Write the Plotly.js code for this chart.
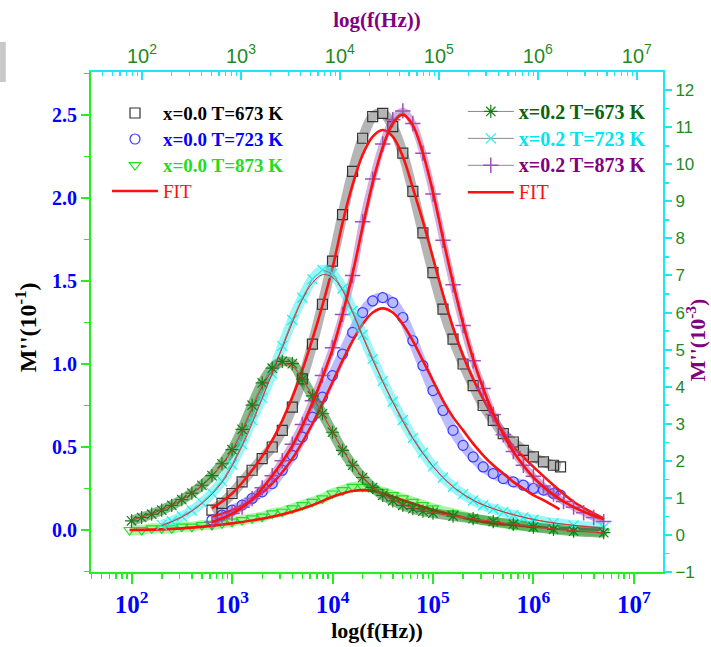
<!DOCTYPE html>
<html>
<head>
<meta charset="utf-8">
<script src="https://cdn.plot.ly/plotly-3.0.1.min.js"></script>
<style>html,body{margin:0;padding:0;background:#fff;}#chart{width:711px;height:647px;}</style>
</head>
<body>
<div id="chart"></div>
<script>
// ---------- x = 0.0 (left axis, M'' in 1e-1) ----------
// log10(f/Hz) positions and M'' values
const logF_A = [2.8,2.9,3.0,3.1,3.2,3.3,3.4,3.5,3.6,3.7,3.8,3.9,4.0,4.1,4.2,4.3,4.4,4.5,4.6,4.7,4.8,4.9,5.0,5.1,5.2,5.3,5.4,5.5,5.6,5.7,5.8,5.9,6.0,6.1,6.2,6.27];
const m_A673 = [0.12,0.16,0.22,0.29,0.36,0.43,0.50,0.60,0.74,0.91,1.12,1.36,1.62,1.90,2.16,2.36,2.49,2.51,2.43,2.27,2.04,1.79,1.55,1.33,1.15,1.00,0.87,0.75,0.66,0.58,0.53,0.48,0.44,0.41,0.39,0.38];
const logF_fitA = [2.8,3.0,3.2,3.4,3.6,3.8,4.0,4.1,4.2,4.3,4.4,4.5,4.6,4.7,4.8,4.9,5.0,5.1,5.2,5.3,5.4,5.5,5.6,5.7,5.8,5.9,6.0,6.2,6.4,6.6,6.7];
const fit_A673 = [0.13,0.22,0.36,0.54,0.80,1.15,1.58,1.85,2.08,2.26,2.37,2.41,2.37,2.25,2.06,1.86,1.64,1.42,1.22,1.05,0.91,0.79,0.68,0.59,0.50,0.44,0.38,0.27,0.17,0.10,0.07];

const logF_B = [2.8,2.9,3.0,3.1,3.2,3.3,3.4,3.5,3.6,3.7,3.8,3.9,4.0,4.1,4.2,4.3,4.4,4.5,4.6,4.7,4.8,4.9,5.0,5.1,5.2,5.3,5.4,5.5,5.6,5.7,5.8,5.9,6.0,6.1,6.2,6.27];
const m_B723 = [0.06,0.09,0.12,0.15,0.19,0.23,0.28,0.36,0.45,0.56,0.68,0.80,0.93,1.06,1.19,1.31,1.38,1.40,1.37,1.28,1.14,0.99,0.84,0.72,0.60,0.51,0.44,0.38,0.34,0.31,0.29,0.27,0.25,0.24,0.22,0.21];
const logF_fitB = [2.8,3.0,3.2,3.4,3.6,3.8,4.0,4.1,4.2,4.3,4.4,4.5,4.6,4.7,4.8,4.9,5.0,5.1,5.2,5.3,5.4,5.5,5.6,5.7,5.8,5.9,6.0,6.1,6.26];
const fit_B723 = [0.08,0.12,0.18,0.28,0.43,0.64,0.89,1.02,1.14,1.24,1.31,1.335,1.31,1.24,1.14,1.02,0.90,0.78,0.68,0.60,0.52,0.45,0.39,0.34,0.29,0.25,0.21,0.18,0.125];

const logF_C = [1.98,2.1,2.2,2.3,2.4,2.5,2.6,2.7,2.8,2.9,3.0,3.1,3.2,3.3,3.4,3.5,3.6,3.7,3.8,3.9,4.0,4.1,4.2,4.3,4.4,4.5,4.6,4.7,4.8,4.9,5.0,5.2,5.4,5.6,5.8,6.0,6.2,6.4,6.7];
const m_C873 = [0.00,0.00,0.01,0.01,0.01,0.02,0.02,0.03,0.03,0.04,0.05,0.06,0.07,0.08,0.10,0.11,0.13,0.15,0.17,0.19,0.22,0.24,0.26,0.26,0.25,0.23,0.21,0.19,0.17,0.15,0.13,0.10,0.07,0.05,0.03,0.02,0.01,0.00,-0.01];
const logF_fitC = [1.98,2.5,3.0,3.4,3.6,3.8,4.0,4.1,4.2,4.3,4.4,4.5,4.6,4.8,5.0,5.2,5.4,5.6,5.8,6.0,6.3,6.7];
const fit_C873 = [0.00,0.01,0.04,0.08,0.11,0.15,0.20,0.22,0.235,0.24,0.235,0.22,0.20,0.16,0.12,0.09,0.06,0.04,0.03,0.02,0.01,0.00];

// ---------- x = 0.2 (right axis, M'' in 1e-3) ----------
const logF_D = [2.0,2.1,2.2,2.3,2.4,2.5,2.6,2.7,2.8,2.9,3.0,3.1,3.2,3.3,3.4,3.5,3.6,3.7,3.8,3.9,4.0,4.1,4.2,4.3,4.4,4.5,4.6,4.7,4.8,4.9,5.0,5.2,5.4,5.6,5.8,6.0,6.2,6.4,6.7];
const m_D673 = [0.38,0.47,0.56,0.67,0.80,0.95,1.13,1.34,1.60,1.92,2.30,2.85,3.50,4.10,4.50,4.68,4.62,4.20,3.75,3.27,2.77,2.28,1.88,1.55,1.28,1.07,0.92,0.80,0.71,0.64,0.59,0.51,0.44,0.36,0.29,0.21,0.15,0.10,0.06];
const logF_fitD = [2.0,2.2,2.4,2.6,2.8,3.0,3.1,3.2,3.3,3.4,3.5,3.6,3.7,3.8,3.9,4.0,4.1,4.2,4.3,4.4,4.6,4.8,5.0,5.3,5.6,6.0,6.4,6.7];
const fit_D673 = [0.40,0.57,0.80,1.12,1.58,2.28,2.80,3.42,4.00,4.42,4.62,4.55,4.22,3.75,3.27,2.78,2.30,1.90,1.57,1.30,0.94,0.73,0.60,0.48,0.36,0.22,0.11,0.06];

const logF_E = [2.3,2.4,2.5,2.6,2.7,2.8,2.9,3.0,3.1,3.2,3.3,3.4,3.5,3.6,3.7,3.8,3.9,4.0,4.1,4.2,4.3,4.4,4.5,4.6,4.7,4.8,4.9,5.0,5.1,5.2,5.3,5.4,5.5,5.6,5.7,5.8,5.9,6.0,6.2,6.4,6.7];
const m_E723 = [0.27,0.37,0.50,0.66,0.87,1.13,1.45,1.90,2.45,3.10,3.70,4.35,5.10,5.80,6.40,6.90,7.15,7.05,6.65,6.05,5.40,4.75,4.15,3.60,3.10,2.62,2.22,1.85,1.55,1.30,1.10,0.93,0.80,0.70,0.62,0.54,0.47,0.41,0.32,0.26,0.20];
const logF_fitE = [2.3,2.5,2.7,2.9,3.1,3.3,3.5,3.7,3.8,3.9,4.0,4.1,4.2,4.4,4.6,4.8,5.0,5.2,5.4,5.6,5.8,6.0,6.3,6.7];
const fit_E723 = [0.25,0.48,0.85,1.42,2.40,3.68,5.05,6.35,6.80,7.02,6.95,6.60,6.00,4.72,3.58,2.60,1.85,1.30,0.94,0.71,0.55,0.42,0.29,0.18];

const logF_F = [2.8,2.9,3.0,3.1,3.2,3.3,3.4,3.5,3.6,3.7,3.8,3.9,4.0,4.1,4.2,4.3,4.4,4.5,4.6,4.7,4.8,4.9,5.0,5.1,5.2,5.3,5.4,5.5,5.6,5.7,5.8,5.9,6.0,6.1,6.2,6.3,6.4,6.5,6.6,6.7];
const m_F873 = [0.35,0.45,0.58,0.75,0.98,1.27,1.60,2.00,2.45,2.98,3.62,4.30,5.05,5.95,7.00,8.45,9.60,10.55,11.20,11.44,11.10,10.30,9.20,7.95,6.75,5.65,4.70,3.95,3.25,2.70,2.25,1.88,1.58,1.32,1.10,0.90,0.75,0.60,0.47,0.36];
const logF_fitF = [2.8,3.0,3.2,3.4,3.6,3.8,3.9,4.0,4.1,4.2,4.3,4.4,4.5,4.6,4.7,4.8,4.9,5.0,5.1,5.2,5.3,5.4,5.5,5.6,5.7,5.8,6.0,6.2,6.4,6.6,6.7];
const fit_F873 = [0.35,0.57,0.96,1.60,2.40,3.55,4.25,5.00,5.95,7.05,8.30,9.50,10.45,11.10,11.34,11.05,10.30,9.25,8.00,6.80,5.70,4.75,3.95,3.28,2.72,2.25,1.55,1.08,0.75,0.52,0.42];

// legend labels and titles
const labA = 'x=0.0 T=673 K', labB = 'x=0.0 T=723 K', labC = 'x=0.0 T=873 K';
const labD = 'x=0.2 T=673 K', labE = 'x=0.2 T=723 K', labF = 'x=0.2 T=873 K';
const labFit = 'FIT';
const titleX = 'log(f(Hz))';
const titleYL = "M''(10<sup>-1</sup>)";
const titleYR = "M''(10<sup>-3</sup>)";

const hz = a => a.map(v => Math.pow(10, v));
const serif = 'Liberation Serif, Times New Roman, serif';
const sans = 'Liberation Sans Narrow, Arial Narrow, Liberation Sans, Arial, sans-serif';
const RED = '#ff1010';
const GREEN_AX = '#22ee22';
const CYAN_AX = '#1ee6f2';

const nm = (t, c, px, bold) => (bold ? '<b>' : '') + '<span style="color:' + c + ';font-size:' + px + 'px">' + t + '</span>' + (bold ? '</b>' : '');
// soft band drawn under the markers, mimicking the dense data points
const band = (x, y, ax, color, w) => ({x: hz(x), y: y, yaxis: ax, mode: 'lines', showlegend: false, hoverinfo: 'skip',
  line: {color: color, width: w, shape: 'spline'}});

const traces = [
  band(logF_F, m_F873, 'y2', 'rgba(160,80,184,0.45)', 7),
  band(logF_E, m_E723, 'y2', 'rgba(34,238,238,0.45)', 10),
  band(logF_D, m_D673, 'y2', 'rgba(20,120,20,0.5)', 10),
  band(logF_C, m_C873, 'y', 'rgba(60,238,60,0.45)', 10),
  band(logF_B, m_B723, 'y', 'rgba(60,60,255,0.35)', 10),
  band(logF_A, m_A673, 'y', 'rgba(90,90,90,0.45)', 10),
  // x=0.2 data (right axis)
  {x: hz(logF_F), y: m_F873, yaxis: 'y2', mode: 'lines+markers', name: nm(labF, '#800080', 20, true), legend: 'legend2', legendrank: 3,
   line: {color: '#8a8a8a', width: 1}, marker: {symbol: 'cross-thin-open', size: 11, color: '#a050b8', line: {width: 1.5, color: '#a050b8'}}},
  {x: hz(logF_E), y: m_E723, yaxis: 'y2', mode: 'lines+markers', name: nm(labE, '#00e5ee', 20, true), legend: 'legend2', legendrank: 2,
   line: {color: '#8a8a8a', width: 1}, marker: {symbol: 'x-thin-open', size: 10, color: '#22eeee', line: {width: 1.2, color: '#22eeee'}}},
  {x: hz(logF_D), y: m_D673, yaxis: 'y2', mode: 'lines+markers', name: nm(labD, '#0a640a', 20, true), legend: 'legend2', legendrank: 1,
   line: {color: '#8a8a8a', width: 1}, marker: {symbol: 'asterisk-open', size: 11, color: '#1a7a1a', line: {width: 1.2, color: '#1a7a1a'}}},
  // x=0.0 data (left axis)
  {x: hz(logF_C), y: m_C873, mode: 'markers', name: nm(labC, '#22dd22', 19, true), legend: 'legend', legendrank: 3,
   marker: {symbol: 'triangle-down-open', size: 10, color: '#22dd22', line: {width: 1.2, color: '#22dd22'}}},
  {x: hz(logF_B), y: m_B723, mode: 'markers', name: nm(labB, '#0000ff', 19, true), legend: 'legend', legendrank: 2,
   marker: {symbol: 'circle-open', size: 10, color: '#3a3aff', line: {width: 1.2, color: '#3a3aff'}}},
  {x: hz(logF_A), y: m_A673, mode: 'markers', name: nm(labA, '#000000', 19, true), legend: 'legend', legendrank: 1,
   marker: {symbol: 'square-open', size: 10, color: '#333333', line: {width: 1.2, color: '#333333'}}},
  // fits
  {x: hz(logF_fitD), y: fit_D673, yaxis: 'y2', mode: 'lines', showlegend: false, line: {color: '#d83030', width: 1, shape: 'spline'}},
  {x: hz(logF_fitE), y: fit_E723, yaxis: 'y2', mode: 'lines', showlegend: false, line: {color: '#d83030', width: 1, shape: 'spline'}},
  {x: hz(logF_fitF), y: fit_F873, yaxis: 'y2', mode: 'lines', name: nm(labFit, RED, 20, false), legend: 'legend2', legendrank: 4,
   line: {color: RED, width: 2.6, shape: 'spline'}},
  {x: hz(logF_fitC), y: fit_C873, mode: 'lines', showlegend: false, line: {color: RED, width: 2.6, shape: 'spline'}},
  {x: hz(logF_fitB), y: fit_B723, mode: 'lines', showlegend: false, line: {color: RED, width: 2.6, shape: 'spline'}},
  {x: hz(logF_fitA), y: fit_A673, mode: 'lines', name: nm(labFit, RED, 19, false), legend: 'legend', legendrank: 4,
   line: {color: RED, width: 2.6, shape: 'spline'}},
  // carrier for the top axis
  {x: [100], y: [null], xaxis: 'x2', mode: 'markers', showlegend: false, hoverinfo: 'skip'}
];

const layout = {
  width: 711, height: 647,
  margin: {l: 91, r: 48, t: 72, b: 75, pad: 0},
  paper_bgcolor: '#ffffff', plot_bgcolor: '#ffffff',
  showlegend: true,
  xaxis: {
    type: 'log', range: [1.596, 7.29], dtick: 1, exponentformat: 'power',
    showline: true, linecolor: GREEN_AX, linewidth: 2, showgrid: false, zeroline: false,
    ticks: 'outside', ticklen: 10, tickwidth: 2, tickcolor: GREEN_AX,
    minor: {ticks: 'outside', ticklen: 5, tickwidth: 1.5, tickcolor: GREEN_AX, dtick: 'D1', showgrid: false},
    tickfont: {family: serif, size: 20, color: '#0000ff', weight: 'bold'},
    title: {text: titleX, font: {family: serif, size: 22, color: '#000000', weight: 'bold'}, standoff: 5}
  },
  xaxis2: {
    type: 'log', range: [1.485, 7.265], dtick: 1, exponentformat: 'power',
    overlaying: 'x', side: 'top', anchor: 'y',
    showline: true, linecolor: CYAN_AX, linewidth: 2, showgrid: false, zeroline: false,
    ticks: 'inside', ticklen: 8, tickwidth: 1.5, tickcolor: CYAN_AX,
    minor: {ticks: 'inside', ticklen: 4, tickwidth: 1.2, tickcolor: CYAN_AX, dtick: 'D1', showgrid: false},
    tickfont: {family: sans, size: 16, color: '#1f8a1f'},
    title: {text: titleX, font: {family: serif, size: 21, color: '#800080', weight: 'bold'}, standoff: 8}
  },
  yaxis: {
    range: [-0.253, 2.759], dtick: 0.5, tickformat: '.1f',
    showline: true, linecolor: GREEN_AX, linewidth: 2, showgrid: false, zeroline: false,
    ticks: 'outside', ticklen: 8, tickwidth: 2, tickcolor: GREEN_AX,
    minor: {ticks: 'outside', ticklen: 5, tickwidth: 1.5, tickcolor: GREEN_AX, dtick: 0.25, showgrid: false},
    tickfont: {family: serif, size: 20, color: '#0000ff', weight: 'bold'}
  },
  yaxis2: {
    range: [-1, 12.49], dtick: 1, overlaying: 'y', side: 'right', anchor: 'x',
    showline: true, linecolor: CYAN_AX, linewidth: 2, showgrid: false, zeroline: false,
    ticks: 'outside', ticklen: 7, tickwidth: 2, tickcolor: CYAN_AX,
    minor: {ticks: 'outside', ticklen: 4, tickwidth: 1.5, tickcolor: CYAN_AX, dtick: 0.5, showgrid: false},
    tickfont: {family: sans, size: 17, color: '#1f8a1f'}
  },
  annotations: [
    {text: titleYL, xref: 'paper', yref: 'paper', x: -0.113, y: 0.49, xanchor: 'center', yanchor: 'middle',
     textangle: -90, showarrow: false, font: {family: serif, size: 24, color: '#000000', weight: 'bold'}},
    {text: titleYR, xref: 'paper', yref: 'paper', x: 1.058, y: 0.464, xanchor: 'center', yanchor: 'middle',
     textangle: -90, showarrow: false, font: {family: serif, size: 22, color: '#800080', weight: 'bold'}}
  ],
  legend: {x: 0.028, y: 0.954, xanchor: 'left', yanchor: 'top', bgcolor: 'rgba(0,0,0,0)', itemwidth: 46,
           font: {family: serif, size: 17.7}, traceorder: 'normal'},
  legend2: {x: 0.65, y: 0.958, xanchor: 'left', yanchor: 'top', bgcolor: 'rgba(0,0,0,0)', itemwidth: 46,
            font: {family: serif, size: 18.4}, traceorder: 'normal'},
  shapes: [
    {type: 'rect', xref: 'paper', yref: 'paper', x0: -0.159, x1: -0.149, y0: 0.98, y1: 1.06,
     fillcolor: '#c8c8c8', line: {width: 0}, layer: 'above'}
  ]
};

Plotly.newPlot('chart', traces, layout, {displayModeBar: false, staticPlot: true});
</script>
</body>
</html>
